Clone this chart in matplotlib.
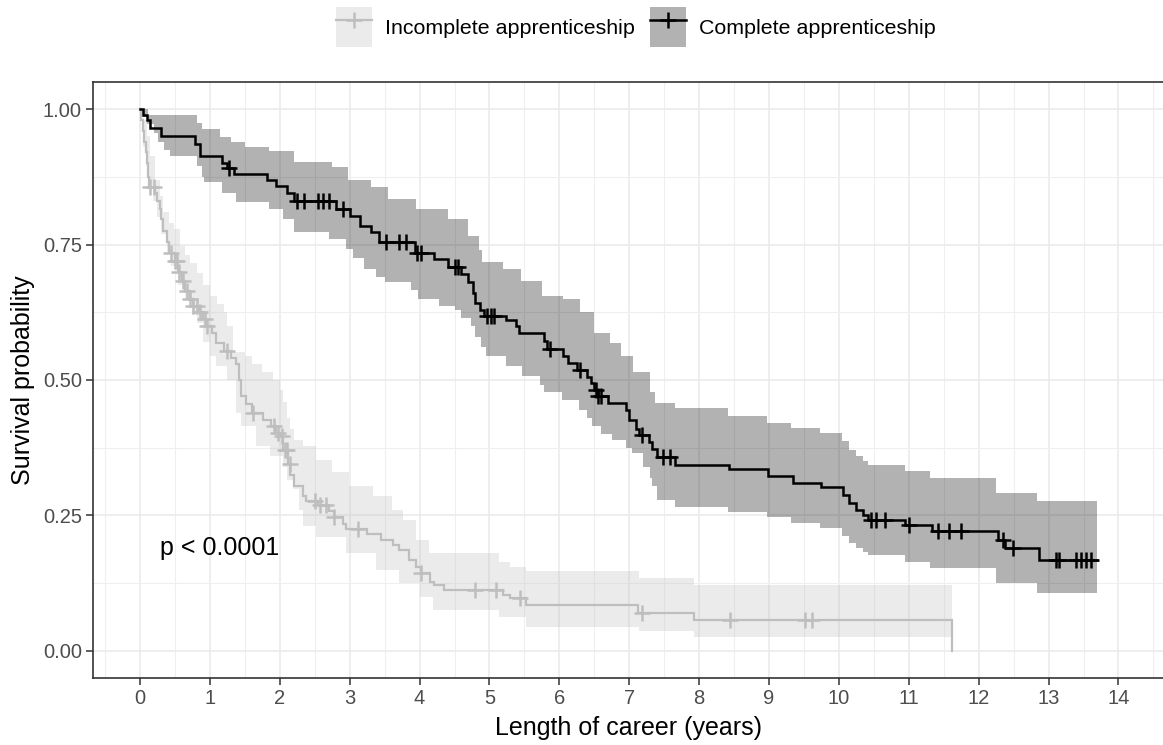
import numpy as np
import matplotlib
matplotlib.use("Agg")
import matplotlib.pyplot as plt
from matplotlib.patches import Patch
from matplotlib.lines import Line2D
from matplotlib.legend_handler import HandlerTuple
from matplotlib.ticker import MultipleLocator

plt.rcParams['font.family'] = ['Liberation Sans', 'DejaVu Sans']

# ---------------- data ----------------
groups = ["Incomplete apprenticeship", "Complete apprenticeship"]

# Complete apprenticeship: KM step curve
comp_t = [0, 0.04, 0.10, 0.15, 0.30, 0.78, 0.86, 1.18, 1.25, 1.35, 1.82, 1.95, 2.10, 2.20,
          2.80, 3.00, 3.15, 3.30, 3.42, 3.93, 4.20, 4.40, 4.60, 4.70, 4.76, 4.80, 4.86, 4.92,
          5.23, 5.38, 5.42, 5.78, 5.82, 6.05, 6.13, 6.25, 6.40, 6.45, 6.50, 6.56, 6.70, 6.95,
          7.00, 7.10, 7.14, 7.28, 7.33, 7.40, 7.65, 8.43, 8.99, 9.34, 9.75, 10.06, 10.15,
          10.25, 10.35, 10.42, 10.95, 11.33, 12.27, 12.38, 12.86, 13.70]
comp_s = [1.0, 0.99, 0.98, 0.966, 0.951, 0.935, 0.914, 0.90, 0.892, 0.88, 0.87, 0.858, 0.846, 0.83,
          0.815, 0.803, 0.785, 0.773, 0.754, 0.735, 0.723, 0.708, 0.695, 0.68, 0.66, 0.643, 0.63, 0.618,
          0.61, 0.60, 0.587, 0.572, 0.558, 0.545, 0.532, 0.519, 0.505, 0.495, 0.482, 0.47, 0.458, 0.445,
          0.427, 0.41, 0.398, 0.385, 0.372, 0.357, 0.344, 0.335, 0.322, 0.31, 0.303, 0.288, 0.273,
          0.26, 0.251, 0.242, 0.233, 0.221, 0.205, 0.19, 0.168, 0.168]
comp_censor = [1.28, 2.25, 2.35, 2.55, 2.62, 2.70, 2.90, 3.52, 3.70, 3.80, 3.97, 4.02, 4.50, 4.55,
               4.97, 5.02, 5.07, 5.87, 6.30, 6.52, 6.56, 6.60, 7.18, 7.49, 7.59, 10.46, 10.53,
               10.66, 11.01, 11.42, 11.58, 11.75, 12.35, 12.49, 13.10, 13.15, 13.39, 13.46,
               13.54, 13.60]

comp_up_t = [0, 0.12, 0.81, 0.88, 1.14, 1.30, 1.50, 1.85, 2.20, 2.75, 2.98, 3.30, 3.55, 3.95,
             4.40, 4.70, 4.85, 4.90, 5.20, 5.45, 5.75, 6.05, 6.30, 6.50, 6.72, 6.88, 7.05, 7.30,
             7.37, 7.65, 8.42, 8.97, 9.32, 9.73, 10.04, 10.15, 10.25, 10.35, 10.42, 10.94,
             11.30, 12.25, 12.84, 13.70]
comp_up = [1.0, 0.99, 0.975, 0.963, 0.948, 0.94, 0.93, 0.923, 0.902, 0.893, 0.87, 0.856, 0.834,
           0.815, 0.797, 0.766, 0.74, 0.717, 0.704, 0.683, 0.655, 0.649, 0.625, 0.587, 0.569,
           0.544, 0.514, 0.477, 0.458, 0.449, 0.433, 0.421, 0.412, 0.402, 0.387, 0.37, 0.36,
           0.35, 0.344, 0.332, 0.32, 0.292, 0.276, 0.276]
comp_lo_t = [0, 0.05, 0.10, 0.20, 0.26, 0.35, 0.43, 0.81, 0.88, 0.92, 1.17, 1.38, 1.85, 2.04,
             2.20, 2.71, 2.95, 3.05, 3.20, 3.38, 3.50, 3.88, 3.98, 4.28, 4.50, 4.60, 4.73, 4.80,
             4.88, 4.95, 5.23, 5.47, 5.72, 5.78, 6.04, 6.28, 6.40, 6.47, 6.60, 6.75, 6.95, 7.04,
             7.20, 7.30, 7.33, 7.40, 7.65, 8.42, 8.97, 9.32, 9.73, 10.04, 10.15, 10.25, 10.35,
             10.42, 10.94, 11.30, 12.25, 12.84, 13.70]
comp_lo = [1.0, 0.985, 0.972, 0.955, 0.939, 0.925, 0.913, 0.895, 0.875, 0.865, 0.846, 0.828,
           0.815, 0.797, 0.773, 0.76, 0.741, 0.725, 0.705, 0.69, 0.68, 0.667, 0.649, 0.636, 0.63,
           0.615, 0.60, 0.58, 0.56, 0.544, 0.525, 0.507, 0.49, 0.477, 0.464, 0.445, 0.43, 0.415,
           0.40, 0.39, 0.375, 0.366, 0.34, 0.32, 0.304, 0.279, 0.265, 0.257, 0.248, 0.236, 0.227,
           0.213, 0.20, 0.19, 0.183, 0.177, 0.165, 0.153, 0.126, 0.107, 0.107]

# Incomplete apprenticeship: KM step curve
inc_t = [0, 0.02, 0.04, 0.06, 0.08, 0.10, 0.12, 0.13, 0.22, 0.25, 0.28, 0.30, 0.33, 0.38, 0.42,
         0.50, 0.55, 0.60, 0.65, 0.72, 0.76, 0.84, 0.90, 0.95, 1.03, 1.09, 1.20, 1.30, 1.38,
         1.42, 1.44, 1.52, 1.60, 1.76, 1.88, 1.94, 2.00, 2.05, 2.12, 2.15, 2.20, 2.33, 2.38,
         2.55, 2.70, 2.77, 2.90, 2.95, 3.25, 3.45, 3.62, 3.70, 3.85, 3.95, 4.02, 4.15, 4.20,
         4.35, 5.20, 5.30, 5.52, 7.12, 7.93, 11.62]
inc_s = [1.0, 0.98, 0.96, 0.94, 0.92, 0.90, 0.875, 0.856, 0.845, 0.83, 0.815, 0.797, 0.775, 0.755,
         0.735, 0.72, 0.70, 0.683, 0.665, 0.65, 0.636, 0.625, 0.612, 0.60, 0.587, 0.569, 0.553,
         0.54, 0.53, 0.50, 0.47, 0.455, 0.44, 0.427, 0.415, 0.403, 0.396, 0.37, 0.345, 0.325,
         0.304, 0.285, 0.276, 0.27, 0.258, 0.248, 0.235, 0.225, 0.215, 0.205, 0.195, 0.187,
         0.168, 0.155, 0.144, 0.128, 0.122, 0.113, 0.104, 0.097, 0.085, 0.07, 0.057, 0.0]
inc_censor = [0.14, 0.20, 0.45, 0.50, 0.53, 0.56, 0.61, 0.67, 0.72, 0.76, 0.81, 0.86, 0.93, 0.96,
              1.24, 1.62, 1.92, 1.98, 2.03, 2.07, 2.10, 2.14, 2.50, 2.57, 2.66, 2.78, 3.12,
              4.02, 4.80, 5.09, 5.44, 7.18, 8.44, 9.51, 9.61]

inc_up_t = [0, 0.05, 0.10, 0.15, 0.22, 0.28, 0.33, 0.42, 0.48, 0.57, 0.65, 0.72, 0.81, 0.90,
            1.00, 1.10, 1.20, 1.25, 1.33, 1.50, 1.60, 1.75, 1.90, 2.00, 2.05, 2.10, 2.15, 2.20,
            2.33, 2.52, 2.75, 2.99, 3.33, 3.60, 3.76, 3.95, 4.14, 5.14, 5.30, 5.52, 7.14, 7.92,
            11.62]
inc_up = [1.0, 0.98, 0.95, 0.914, 0.87, 0.84, 0.81, 0.79, 0.778, 0.747, 0.73, 0.716, 0.698, 0.675,
          0.655, 0.64, 0.625, 0.60, 0.551, 0.544, 0.53, 0.515, 0.50, 0.482, 0.46, 0.43, 0.41,
          0.39, 0.378, 0.353, 0.33, 0.304, 0.285, 0.26, 0.242, 0.205, 0.18, 0.165, 0.155, 0.147,
          0.134, 0.122, 0.122]
inc_lo_t = [0, 0.04, 0.08, 0.12, 0.18, 0.25, 0.30, 0.38, 0.45, 0.55, 0.65, 0.75, 0.81, 0.90,
            1.00, 1.09, 1.24, 1.38, 1.45, 1.66, 1.86, 2.04, 2.10, 2.19, 2.27, 2.33, 2.52, 2.95,
            3.38, 3.71, 4.00, 4.19, 5.14, 5.52, 7.14, 7.92, 11.62]
inc_lo = [1.0, 0.93, 0.895, 0.86, 0.83, 0.80, 0.77, 0.735, 0.71, 0.675, 0.645, 0.62, 0.606, 0.57,
          0.544, 0.525, 0.50, 0.44, 0.415, 0.378, 0.36, 0.34, 0.316, 0.298, 0.26, 0.23, 0.211,
          0.18, 0.15, 0.126, 0.10, 0.076, 0.063, 0.045, 0.036, 0.026, 0.026]

x_ticks = list(range(0, 15))
y_ticks = [0.00, 0.25, 0.50, 0.75, 1.00]
y_ticklabels = ["0.00", "0.25", "0.50", "0.75", "1.00"]
pval_text = "p < 0.0001"

# ---------------- styling ----------------
inc_col = "#BEBEBE"
comp_col = "#000000"
alpha_band = 0.30

W, H = 1163, 745
fig = plt.figure(figsize=(W / 100, H / 100), dpi=100)
left_px, right_px, top_px, bottom_px = 93, 1164, 82, 678
ax = fig.add_axes([left_px / W, 1 - bottom_px / H, (right_px - left_px) / W, (bottom_px - top_px) / H])

x0_px, px_per_year = 140.0, 69.89
ax.set_xlim((left_px - x0_px) / px_per_year, (right_px - x0_px) / px_per_year)
ax.set_ylim(-0.05, 1.05)

ax.set_xticks(x_ticks)
ax.xaxis.set_minor_locator(MultipleLocator(0.5))
ax.set_yticks(y_ticks)
ax.set_yticklabels(y_ticklabels)
ax.yaxis.set_minor_locator(MultipleLocator(0.125))
ax.grid(True, which='major', color='#EBEBEB', lw=1.2, zorder=0)
ax.grid(True, which='minor', color='#EFEFEF', lw=0.8, zorder=0)
ax.set_axisbelow(True)
ax.tick_params(axis='both', which='major', labelsize=14.5, labelcolor='#4D4D4D',
               color='#333333', length=5, width=1.1, pad=3)
ax.tick_params(axis='both', which='minor', length=0)
for s in ax.spines.values():
    s.set_color('#333333')
    s.set_linewidth(1.2)


def step_value(ts, ss, t):
    idx = np.searchsorted(np.asarray(ts), np.asarray(t), side='right') - 1
    return np.asarray(ss)[idx]


def draw(ts, ss, ut, us, lt, ls, cens, col, lw):
    grid_t = np.unique(np.concatenate([ut, lt]))
    up = step_value(ut, us, grid_t)
    lo = step_value(lt, ls, grid_t)
    ax.fill_between(grid_t, lo, up, step='post', color=col, alpha=alpha_band, lw=0, zorder=2)
    ax.step(ts, ss, where='post', color=col, lw=lw, zorder=3, solid_joinstyle='miter')
    cy = step_value(ts, ss, cens)
    ax.plot(cens, cy, ls='none', marker='+', ms=11, mew=1.8, color=col, zorder=4)


draw(inc_t, inc_s, inc_up_t, inc_up, inc_lo_t, inc_lo, inc_censor, inc_col, 1.6)
draw(comp_t, comp_s, comp_up_t, comp_up, comp_lo_t, comp_lo, comp_censor, comp_col, 1.8)

ax.text(0.29, 0.19, pval_text, fontsize=18, ha='left', va='center', color='black')

ax.set_xlabel("Length of career (years)", fontsize=18, labelpad=6)
ax.set_ylabel("Survival probability", fontsize=18, labelpad=6)

handles = []
for col, lw in [(inc_col, 1.6), (comp_col, 1.8)]:
    p = Patch(facecolor=col, alpha=alpha_band, edgecolor='none')
    l = Line2D([], [], color=col, lw=lw, marker='+', ms=11, mew=1.8)
    handles.append((p, l))
fig.legend(handles, groups, loc='center', bbox_to_anchor=(636 / W, 1 - 27 / H), ncol=2,
           frameon=False, fontsize=15.4, handlelength=1.7, handleheight=2.5,
           handletextpad=0.6, columnspacing=0.7,
           handler_map={tuple: HandlerTuple(ndivide=1, pad=0)})

fig.savefig("out.png", dpi=100)
